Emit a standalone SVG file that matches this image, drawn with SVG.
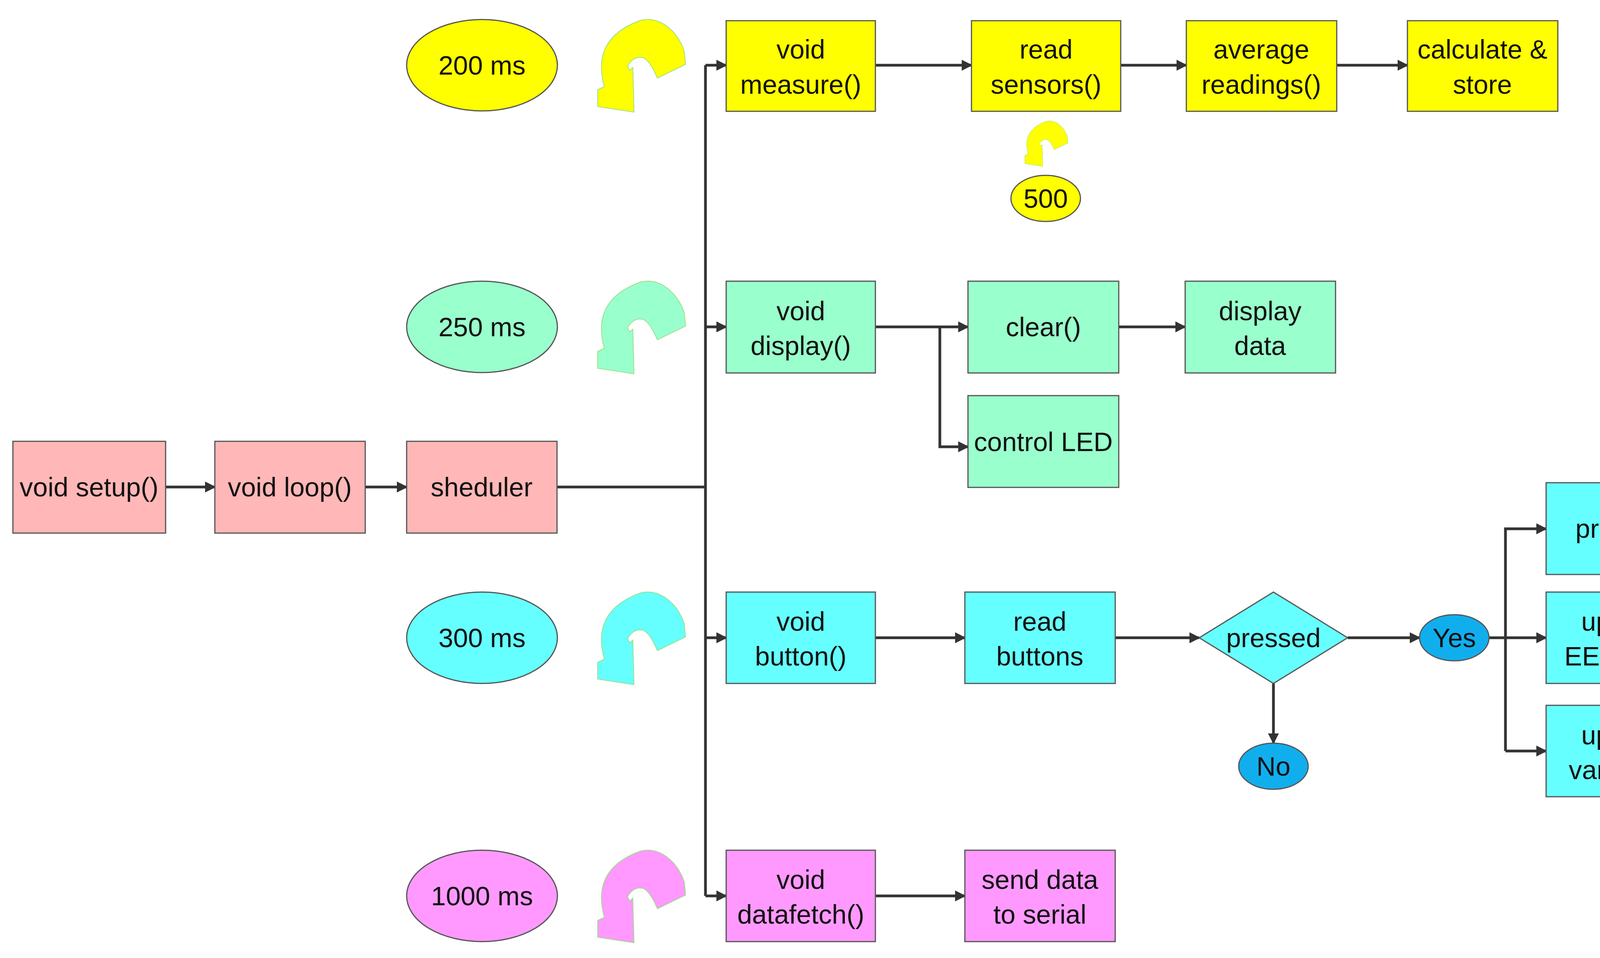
<svg xmlns="http://www.w3.org/2000/svg" width="4376" height="2453" viewBox="0 0 4376 2453">
<style>
.b{stroke:#555;stroke-width:3}
.t{font-family:"Liberation Sans",Arial,sans-serif;font-size:68px;fill:#111;text-anchor:middle}
.c{fill:none;stroke:#333;stroke-width:7}
.y{fill:#FFFF00}.g{fill:#99FFCC}.cy{fill:#66FFFF}.p{fill:#FF99FF}.r{fill:#FFB7B7}.bl{fill:#11AEEE}
.ic{stroke:#9CE08A;stroke-width:2}
</style>
<defs>
<marker id="a" viewBox="0 0 10 10" refX="9" refY="5" markerWidth="4" markerHeight="4" orient="auto" markerUnits="strokeWidth"><path d="M0,0L10,5L0,10z" fill="#333"/></marker>
<path id="ic" d="M30,243 L30,200 L47,192 C30,130 35,60 140,22 C190,10 235,50 252,102 L255,135 L183,170 C170,140 155,115 140,117 C125,115 110,130 107,140 L112,150 L120,143 L122,212 L123,257 Z"/>
</defs>
<g id="connectors" class="c">
<path d="M424,1247H550" marker-end="url(#a)"/>
<path d="M935,1247H1041" marker-end="url(#a)"/>
<path d="M1426,1247H1806"/>
<path d="M1806,167V2294"/>
<path d="M1806,167H1859" marker-end="url(#a)"/>
<path d="M1806,837H1859" marker-end="url(#a)"/>
<path d="M1806,1633H1859" marker-end="url(#a)"/>
<path d="M1806,2294H1859" marker-end="url(#a)"/>
<path d="M2241,167H2487" marker-end="url(#a)"/>
<path d="M2869,167H3037" marker-end="url(#a)"/>
<path d="M3422,167H3603" marker-end="url(#a)"/>
<path d="M2241,837H2478" marker-end="url(#a)"/>
<path d="M2406,837V1144H2478" marker-end="url(#a)"/>
<path d="M2864,837H3034" marker-end="url(#a)"/>
<path d="M2241,1633H2470" marker-end="url(#a)"/>
<path d="M2855,1633H3070" marker-end="url(#a)"/>
<path d="M3450,1633H3634" marker-end="url(#a)"/>
<path d="M3260,1750V1903" marker-end="url(#a)"/>
<path d="M3812,1633H3958" marker-end="url(#a)"/>
<path d="M3854,1923V1354H3958" marker-end="url(#a)"/>
<path d="M3854,1923H3958" marker-end="url(#a)"/>
<path d="M2241,2294H2470" marker-end="url(#a)"/>
</g>
<g id="icons">
<use href="#ic" class="y ic" transform="translate(1500,30)"/>
<use href="#ic" class="g ic" transform="translate(1500,700)"/>
<use href="#ic" class="cy ic" transform="translate(1500,1496)"/>
<use href="#ic" class="p ic" transform="translate(1500,2157)"/>
<use href="#ic" class="y ic" transform="translate(2609,300) scale(0.49)"/>
</g>
<g id="e200"><ellipse cx="1234" cy="167" rx="193" ry="117" class="y b"/><text class="t" x="1234" y="191">200 ms</text></g>
<g id="e250"><ellipse cx="1234" cy="837" rx="193" ry="117" class="g b"/><text class="t" x="1234" y="861">250 ms</text></g>
<g id="e300"><ellipse cx="1234" cy="1633" rx="193" ry="117" class="cy b"/><text class="t" x="1234" y="1657">300 ms</text></g>
<g id="e1000"><ellipse cx="1234" cy="2294" rx="193" ry="117" class="p b"/><text class="t" x="1234" y="2318">1000 ms</text></g>
<g id="e500"><ellipse cx="2677" cy="508" rx="89" ry="59" class="y b"/><text class="t" x="2677" y="532">500</text></g>
<g id="setup"><rect x="33" y="1130" width="391" height="235" class="r b"/><text class="t" x="228" y="1271">void setup()</text></g>
<g id="loop"><rect x="550" y="1130" width="385" height="235" class="r b"/><text class="t" x="742" y="1271">void loop()</text></g>
<g id="sheduler"><rect x="1041" y="1130" width="385" height="235" class="r b"/><text class="t" x="1233" y="1271">sheduler</text></g>
<g id="measure"><rect x="1859" y="53" width="382" height="232" class="y b"/><text class="t" x="2050" y="150">void</text><text class="t" x="2050" y="240">measure()</text></g>
<g id="readsensors"><rect x="2487" y="53" width="382" height="232" class="y b"/><text class="t" x="2678" y="150">read</text><text class="t" x="2678" y="240">sensors()</text></g>
<g id="average"><rect x="3037" y="53" width="385" height="232" class="y b"/><text class="t" x="3229" y="150">average</text><text class="t" x="3229" y="240">readings()</text></g>
<g id="calc"><rect x="3603" y="53" width="385" height="232" class="y b"/><text class="t" x="3795" y="150">calculate &amp;</text><text class="t" x="3795" y="240">store</text></g>
<g id="display"><rect x="1859" y="720" width="382" height="235" class="g b"/><text class="t" x="2050" y="820">void</text><text class="t" x="2050" y="909">display()</text></g>
<g id="clear"><rect x="2478" y="720" width="386" height="235" class="g b"/><text class="t" x="2671" y="861">clear()</text></g>
<g id="displaydata"><rect x="3034" y="720" width="385" height="235" class="g b"/><text class="t" x="3226" y="820">display</text><text class="t" x="3226" y="909">data</text></g>
<g id="led"><rect x="2478" y="1013" width="386" height="235" class="g b"/><text class="t" x="2671" y="1155">control LED</text></g>
<g id="button"><rect x="1859" y="1516" width="382" height="234" class="cy b"/><text class="t" x="2050" y="1615">void</text><text class="t" x="2050" y="1704">button()</text></g>
<g id="readbuttons"><rect x="2470" y="1516" width="385" height="234" class="cy b"/><text class="t" x="2662" y="1615">read</text><text class="t" x="2662" y="1704">buttons</text></g>
<g id="pressed"><path d="M3260,1516L3450,1633L3260,1750L3070,1633Z" class="cy b"/><text class="t" x="3260" y="1657">pressed</text></g>
<g id="yes"><ellipse cx="3723" cy="1633" rx="89" ry="59" class="bl b"/><text class="t" x="3723" y="1657">Yes</text></g>
<g id="no"><ellipse cx="3260" cy="1962" rx="89" ry="59" class="bl b"/><text class="t" x="3260" y="1986">No</text></g>
<g id="process"><rect x="3958" y="1236" width="388" height="235" class="cy b"/><text class="t" x="4152" y="1377">process</text></g>
<g id="eeprom"><rect x="3958" y="1516" width="388" height="234" class="cy b"/><text class="t" x="4152" y="1615">update</text><text class="t" x="4152" y="1704">EEPROM</text></g>
<g id="variables"><rect x="3958" y="1806" width="388" height="234" class="cy b"/><text class="t" x="4152" y="1906">update</text><text class="t" x="4152" y="1995">variables</text></g>
<g id="datafetch"><rect x="1859" y="2177" width="382" height="234" class="p b"/><text class="t" x="2050" y="2276">void</text><text class="t" x="2050" y="2365">datafetch()</text></g>
<g id="send"><rect x="2470" y="2177" width="385" height="234" class="p b"/><text class="t" x="2662" y="2276">send data</text><text class="t" x="2662" y="2365">to serial</text></g>
</svg>
